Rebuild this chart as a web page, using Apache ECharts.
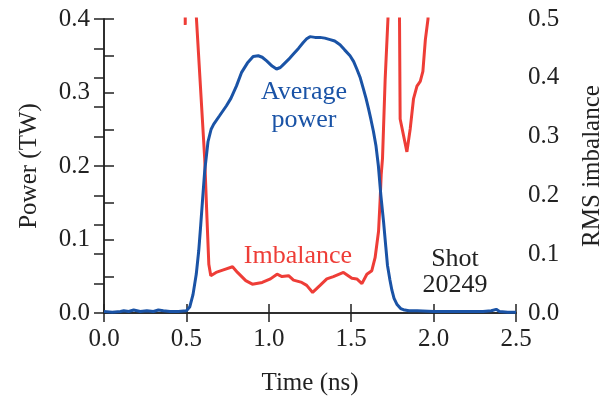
<!DOCTYPE html>
<html>
<head>
<meta charset="utf-8">
<script src="https://cdn.jsdelivr.net/npm/echarts@6/dist/echarts.min.js"></script>
<style>
  html, body { margin: 0; padding: 0; background: #fff; }
  #chart { width: 616px; height: 401px; }
</style>
</head>
<body>
<div id="chart"></div>
<script>
// Average laser power (TW) versus time (ns)
const powerTime = [0.00, 0.05, 0.10, 0.12, 0.15, 0.18, 0.22, 0.26, 0.30, 0.33, 0.36, 0.40, 0.45, 0.50, 0.52, 0.54, 0.56, 0.575, 0.587, 0.60, 0.611, 0.631, 0.65, 0.666, 0.70, 0.743, 0.77, 0.804, 0.834, 0.87, 0.905, 0.936, 0.96, 0.987, 1.02, 1.047, 1.07, 1.088, 1.12, 1.148, 1.18, 1.209, 1.23, 1.25, 1.28, 1.31, 1.34, 1.372, 1.40, 1.432, 1.46, 1.493, 1.515, 1.534, 1.555, 1.574, 1.59, 1.605, 1.62, 1.635, 1.65, 1.665, 1.68, 1.696, 1.71, 1.72, 1.735, 1.747, 1.76, 1.777, 1.80, 1.817, 1.85, 1.90, 2.00, 2.10, 2.20, 2.30, 2.35, 2.38, 2.40, 2.45, 2.50];
const powerValues = [0.002, 0.001, 0.002, 0.003, 0.002, 0.004, 0.002, 0.003, 0.002, 0.004, 0.003, 0.002, 0.002, 0.003, 0.008, 0.025, 0.053, 0.085, 0.12, 0.16, 0.193, 0.233, 0.25, 0.257, 0.268, 0.282, 0.292, 0.309, 0.327, 0.34, 0.349, 0.35, 0.348, 0.343, 0.336, 0.332, 0.334, 0.338, 0.345, 0.352, 0.36, 0.368, 0.373, 0.376, 0.375, 0.375, 0.374, 0.372, 0.37, 0.365, 0.358, 0.35, 0.342, 0.332, 0.32, 0.305, 0.292, 0.278, 0.263, 0.247, 0.228, 0.2, 0.16, 0.125, 0.09, 0.065, 0.045, 0.031, 0.02, 0.012, 0.006, 0.0045, 0.003, 0.003, 0.002, 0.002, 0.002, 0.002, 0.003, 0.005, 0.002, 0.001, 0.001];

// RMS beam imbalance versus time (ns); values above 0.5 run off the top of the plot
const imbalanceTime = [0.485, 0.493, 0.499, 0.54, 0.611, 0.625, 0.636, 0.648, 0.66, 0.68, 0.72, 0.78, 0.81, 0.86, 0.90, 0.96, 1.01, 1.05, 1.08, 1.12, 1.15, 1.20, 1.23, 1.266, 1.311, 1.352, 1.392, 1.453, 1.504, 1.534, 1.565, 1.595, 1.625, 1.645, 1.666, 1.676, 1.682, 1.69, 1.706, 1.723, 1.73, 1.76, 1.785, 1.792, 1.797, 1.838, 1.858, 1.878, 1.899, 1.919, 1.935, 1.95, 1.966, 1.98, 2.00];
const imbalanceValues = [1.0, 0.49, 1.0, 0.6, 0.263, 0.16, 0.083, 0.0635, 0.066, 0.069, 0.073, 0.0786, 0.069, 0.055, 0.049, 0.052, 0.058, 0.066, 0.062, 0.0635, 0.056, 0.052, 0.047, 0.035, 0.047, 0.058, 0.062, 0.069, 0.059, 0.058, 0.05, 0.066, 0.072, 0.094, 0.139, 0.195, 0.235, 0.263, 0.397, 0.5, 0.6, 1.0, 1.0, 0.55, 0.33, 0.274, 0.313, 0.364, 0.386, 0.394, 0.411, 0.465, 0.5, 0.7, 1.0];

const BLUE = '#1a53a6';
const RED = '#ee3d37';
const INK = '#222';
const FONT = '"Liberation Serif", "Times New Roman", serif';

const zip = (xs, ys) => xs.map((x, i) => [x, ys[i]]);
const tenths = v => (Math.round(v * 100) % 10 === 0 ? v.toFixed(1) : '');

const axisLine = { show: true, lineStyle: { color: INK, width: 1.5 } };
const labelStyle = { color: INK, fontFamily: FONT, fontSize: 25 };
const nameStyle = { color: INK, fontFamily: FONT, fontSize: 25 };

const chart = echarts.init(document.getElementById('chart'), null, { renderer: 'canvas' });
chart.setOption({
  backgroundColor: '#fff',
  animation: false,
  grid: { left: 104, right: 100, top: 19, bottom: 85, containLabel: false },
  xAxis: [
    {
      type: 'value', min: 0, max: 2.5, interval: 0.5, position: 'bottom',
      axisLine, splitLine: { show: false },
      axisTick: { inside: true, length: 9, lineStyle: { color: INK, width: 1.5 } },
      axisLabel: { ...labelStyle, margin: 14, formatter: v => v.toFixed(1) },
      name: 'Time (ns)', nameLocation: 'middle', nameGap: 58, nameTextStyle: nameStyle
    },
    {
      type: 'value', min: 0, max: 2.5, interval: 0.5, position: 'top',
      axisLine, splitLine: { show: false },
      axisTick: { inside: true, length: 9, lineStyle: { color: INK, width: 1.5 } },
      axisLabel: { show: false }
    }
  ],
  yAxis: [
    {
      type: 'value', min: 0, max: 0.4, interval: 0.05, position: 'left',
      axisLine, splitLine: { show: false },
      axisTick: { inside: true, length: 10, lineStyle: { color: INK, width: 1.5 } },
      axisLabel: { ...labelStyle, margin: 14, formatter: tenths },
      name: 'Power (TW)', nameLocation: 'middle', nameRotate: 90, nameGap: 62, nameTextStyle: nameStyle
    },
    {
      type: 'value', min: 0, max: 0.5, interval: 0.05, position: 'right',
      axisLine, splitLine: { show: false },
      axisTick: { inside: true, length: 10, lineStyle: { color: INK, width: 1.5 } },
      axisLabel: { ...labelStyle, margin: 12, formatter: tenths },
      name: 'RMS imbalance', nameLocation: 'middle', nameRotate: 90, nameGap: 64, nameTextStyle: nameStyle
    }
  ],
  series: [
    {
      name: 'Average power', type: 'line', xAxisIndex: 0, yAxisIndex: 0,
      data: zip(powerTime, powerValues), showSymbol: false, smooth: false,
      lineStyle: { color: BLUE, width: 3 }, clip: true, z: 3
    },
    {
      name: 'Imbalance', type: 'line', xAxisIndex: 0, yAxisIndex: 1,
      data: zip(imbalanceTime, imbalanceValues), showSymbol: false, smooth: false,
      lineStyle: { color: RED, width: 3 }, clip: true, z: 2
    }
  ],
  graphic: [
    { type: 'text', x: 304, y: 106, style: { text: 'Average\npower', fill: BLUE, font: `26px ${FONT}`, align: 'center', verticalAlign: 'middle', lineHeight: 28 } },
    { type: 'text', x: 298, y: 256, style: { text: 'Imbalance', fill: RED, font: `26px ${FONT}`, align: 'center', verticalAlign: 'middle' } },
    { type: 'text', x: 455, y: 272, style: { text: 'Shot\n20249', fill: INK, font: `26px ${FONT}`, align: 'center', verticalAlign: 'middle', lineHeight: 26 } }
  ]
});
</script>
</body>
</html>
